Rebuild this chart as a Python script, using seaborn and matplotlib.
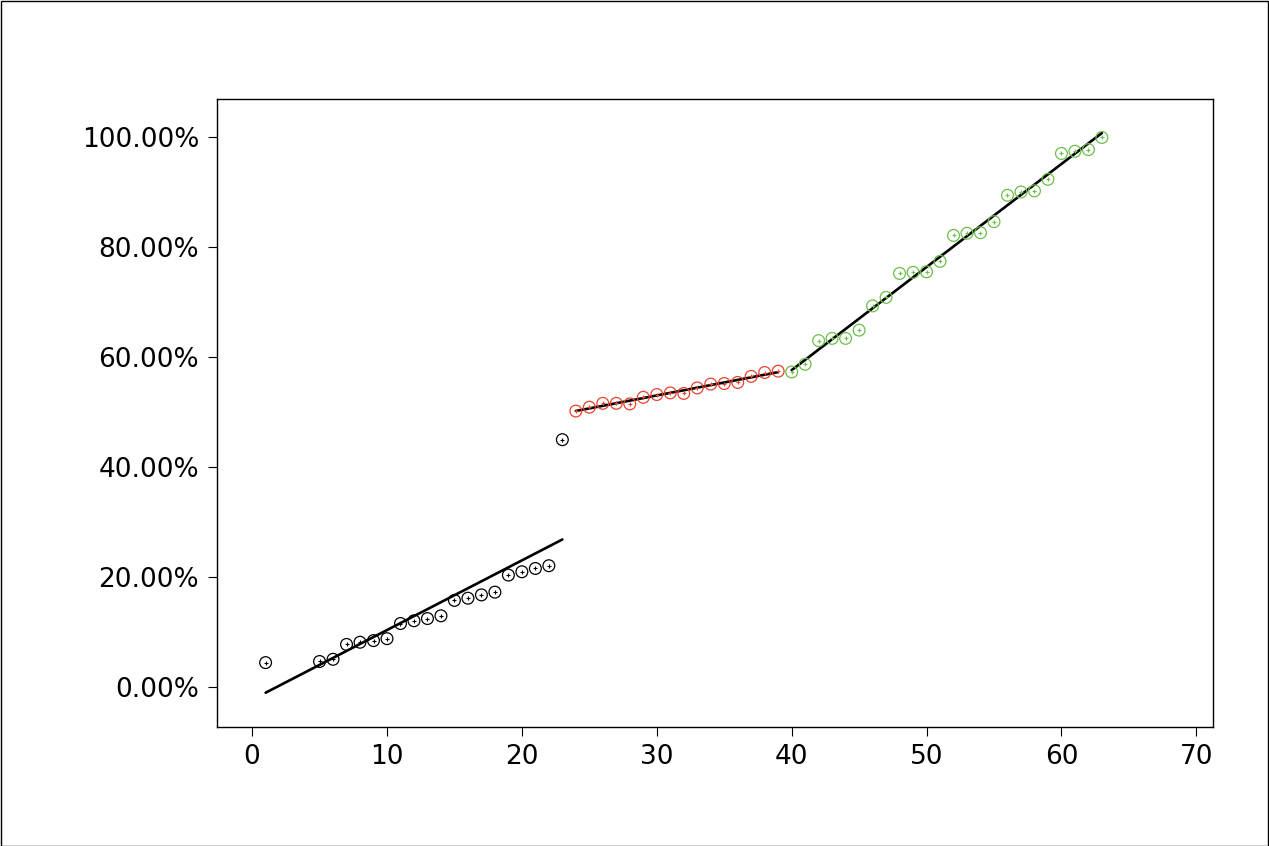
import numpy as np
import pandas as pd
import matplotlib
matplotlib.use("Agg")
import matplotlib.pyplot as plt
import seaborn as sns
from matplotlib.ticker import FuncFormatter, MultipleLocator

sns.set_style("white")
plt.rcParams['font.family'] = ['DejaVu Sans']

# Group 1 (black)
x1 = [1, 5, 6, 7, 8, 9, 10, 11, 12, 13, 14, 15, 16, 17, 18, 19, 20, 21, 22, 23]
y1 = [4.5, 4.7, 5.1, 7.8, 8.2, 8.5, 8.85, 11.6, 12.1, 12.5, 13.0, 15.8, 16.2,
      16.8, 17.3, 20.4, 21.0, 21.6, 22.1, 45.0]
# Group 2 (red)
x2 = list(range(24, 40))
y2 = [50.2, 50.9, 51.6, 51.6, 51.5, 52.7, 53.2, 53.5, 53.4, 54.4, 55.1, 55.2,
      55.4, 56.5, 57.2, 57.45]
# Group 3 (green)
x3 = list(range(40, 64))
y3 = [57.3, 58.7, 63.0, 63.4, 63.4, 64.9, 69.3, 70.85, 75.2, 75.4, 75.5, 77.4,
      82.1, 82.5, 82.6, 84.6, 89.4, 90.0, 90.2, 92.3, 97.0, 97.4, 97.7, 99.9]

groups = [(x1, y1, "#000000"), (x2, y2, "#E8432F"), (x3, y3, "#6CBF4A")]

W, H = 1269, 846
fig = plt.figure(figsize=(W / 100, H / 100), dpi=100)
ax = fig.add_axes([216.5 / W, 1 - 727 / H, (1212.5 - 216.5) / W, (727 - 99.5) / H])

for xs, ys, col in groups:
    df = pd.DataFrame({"x": xs, "y": ys})
    sns.regplot(data=df, x="x", y="y", ax=ax, ci=None, scatter=False,
                truncate=True, line_kws=dict(color="black", lw=1.9, zorder=3))
    sns.scatterplot(data=df, x="x", y="y", ax=ax, marker="o", s=72,
                    facecolor="none", edgecolor=col, linewidth=0.9, zorder=4)
    sns.scatterplot(data=df, x="x", y="y", ax=ax, marker="+", s=7,
                    color=col, linewidth=0.8, zorder=4)

ax.set_xlim(-2.64, 71.2)
ax.set_ylim(-7.2, 106.8)
ax.xaxis.set_major_locator(MultipleLocator(10))
ax.yaxis.set_major_locator(MultipleLocator(20))
ax.yaxis.set_major_formatter(FuncFormatter(lambda v, p: f"{v:.2f}%"))
ax.set_xlabel("")
ax.set_ylabel("")
for s in ax.spines.values():
    s.set_color("black")
    s.set_linewidth(1.0)
ax.tick_params(axis="both", which="major", direction="out", length=6.5,
               width=0.8, color="black", labelsize=19, pad=6, labelcolor="black",
               bottom=True, left=True)

fig.patches.append(plt.Rectangle((0.5 / W, 0.5 / H), 1 - 1.5 / W, 1 - 1.5 / H,
                                 transform=fig.transFigure, fill=False,
                                 edgecolor="black", linewidth=1.0))

fig.savefig("out.png", dpi=100)
